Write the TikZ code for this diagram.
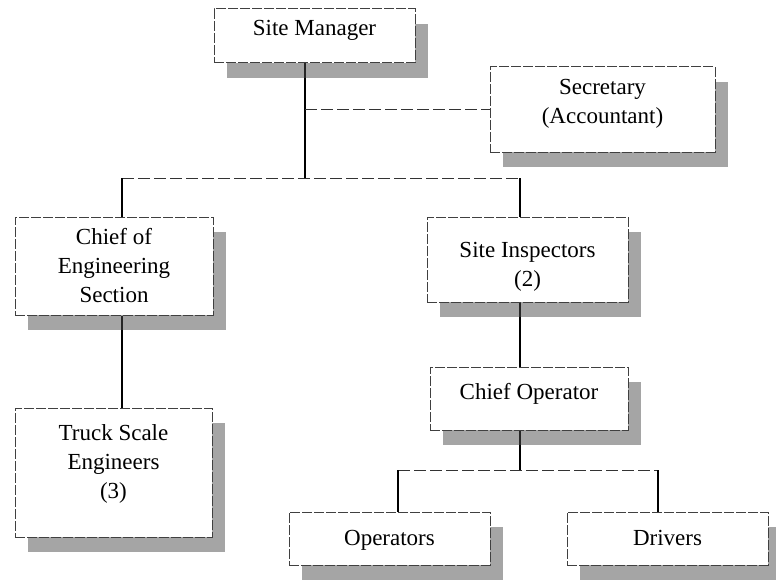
\documentclass[tikz,border=0pt]{standalone}
\usepackage{fontspec}
\setmainfont{Liberation Serif}
\usetikzlibrary{shadows,backgrounds}

\begin{document}
\begin{tikzpicture}[x=0.5pt,y=-0.5pt,
  post/.style={draw=black!75,line width=0.5pt,dash pattern={on 5pt off 1pt},fill=white,
    align=center,inner sep=0pt,font=\fontsize{11.5}{14.5}\selectfont,
    drop shadow={shadow xshift=6.5pt,shadow yshift=-7.5pt,fill=black!70,draw=none}},
  lift/.style={execute at end node={\rule[-#1]{0pt}{0pt}}},
  sink/.style={execute at begin node={\rule{0pt}{#1}}},
  tie/.style={black,line width=0.7pt},
  rung/.style={black!80,line width=0.5pt,dash pattern={on 6pt off 2pt}}]
\useasboundingbox (0,0) rectangle (776,583);

\node[post,lift=8.5pt,minimum width=100.5pt,minimum height=27pt]  (mgr)   at (314.5,36)  {Site Manager};
\node[post,lift=8pt,minimum width=112.5pt,minimum height=42.5pt] (sec)  at (602.5,109.5) {Secretary\\(Accountant)};
\node[post,minimum width=99pt,minimum height=49pt]     (eng)   at (114,266)   {Chief of\\Engineering\\Section};
\node[post,minimum width=100.5pt,minimum height=42.5pt] (insp) at (527.5,259.5) {\rule{0pt}{15pt}Site Inspectors\\(2)};
\node[post,lift=11pt,minimum width=98.5pt,minimum height=64.5pt] (truck) at (113.5,472.5) {Truck Scale\\Engineers\\(3)};
\node[post,lift=7.5pt,minimum width=99pt,minimum height=31.5pt]   (chop)  at (529,398.5) {Chief Operator};
\node[post,sink=9.6pt,minimum width=100.5pt,minimum height=26.5pt] (oper) at (389.5,538.5) {Operators};
\node[post,sink=9.6pt,lift=2.5pt,minimum width=100.5pt,minimum height=26.5pt] (drv)  at (667.5,538.5) {Drivers};

\coordinate (stem) at (305,178);
\coordinate (left) at (122,178);
\coordinate (right) at (520,178);
\coordinate (fork) at (520,470);
\coordinate (fl) at (398,470);
\coordinate (fr) at (658,470);

\begin{scope}[on background layer]
\fill[white] (0,0) rectangle (776,583);
\draw[tie] (mgr.south -| stem) -- (stem);
\draw[rung] (sec.west -| stem) -- (sec.west);
\draw[rung] (left) -- (right);
\draw[tie] (left) -- (left |- eng.north);
\draw[tie] (right) -- (right |- insp.north);
\draw[tie] (left |- eng.south) -- (left |- truck.north);
\draw[tie] (right |- insp.south) -- (right |- chop.north);
\draw[tie] (right |- chop.south) -- (fork);
\draw[rung] (fl) -- (fr);
\draw[tie] (fl) -- (fl |- oper.north);
\draw[tie] (fr) -- (fr |- drv.north);
\end{scope}
\end{tikzpicture}
\end{document}
